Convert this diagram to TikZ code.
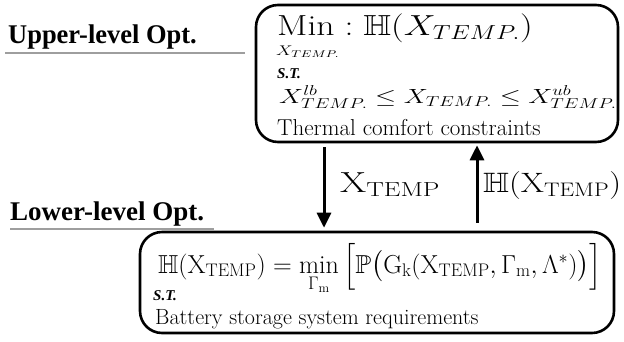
\RequirePackage{fix-cm}
\documentclass[tikz,border=0pt]{standalone}
\usepackage{amsmath,amssymb}
\DeclareFontFamily{U}{msb}{}
\DeclareFontShape{U}{msb}{m}{n}{<-> msbm10}{}
\usepackage{graphicx}
\usepackage{fontspec}
\newfontfamily\timesfont{Liberation Serif}
\usetikzlibrary{arrows.meta}
\newcommand\xsc[2]{\scalebox{#1}[1]{#2}}
\tikzset{
  optbox/.style={draw, line width=2.6pt, rounded corners=22pt, inner sep=0pt},
  levellabel/.style={anchor=base west, inner sep=0pt, font=\timesfont\bfseries\fontsize{27}{30}\selectfont},
  rule/.style={line width=2.5pt, color=black!38},
  txt/.style={anchor=base west, inner sep=0pt},
  stlabel/.style={txt, font=\timesfont\bfseries\itshape\fontsize{15}{18}\selectfont},
  flow/.style={line width=3pt, -{Triangle[length=15pt,width=14pt]}},
}
\begin{document}
\begin{tikzpicture}[x=1pt,y=-1pt]
\useasboundingbox (0,0) rectangle (624,341);
% labels
\node[levellabel] (ul) at (8,43) {\xsc{0.98}{Upper-level Opt.}};
\draw[rule] (5,53) coordinate (ula) -- (245,53) coordinate (ulb);
\node[levellabel] (ll) at (10,220) {\xsc{1.0}{Lower-level Opt.}};
\draw[rule] (10,229) coordinate (lla) -- (214,229) coordinate (llb);
% boxes
\node[optbox, minimum width=362pt, minimum height=137pt] (upper) at (437,73.5) {};
\node[optbox, minimum width=474pt, minimum height=101pt] (lower) at (377,282.5) {};
% upper text
\node[txt, font=\fontsize{29}{32}\selectfont] (u1) at (277,35) {\xsc{1.23}{$\mathrm{Min}:\mathbb{H}(X_{TEMP.})$}};
\node[txt, font=\fontsize{14}{16}\selectfont] (u2) at (276,55) {\xsc{1.33}{$X_{TEMP.}$}};
\node[stlabel] (u3) at (277,78) {S.T.};
\node[txt, font=\fontsize{20.5}{24}\selectfont] (u4) at (279,103) {\xsc{1.32}{$X^{lb}_{TEMP.}\leq X_{TEMP.}\leq X^{ub}_{TEMP.}$}};
\node[txt, font=\fontsize{23}{26}\selectfont] (u5) at (277,135) {Thermal comfort constraints};
% lower text
\node[txt, font=\fontsize{26}{28}\selectfont] (l1) at (158,273) {$\mathbb{H}(\mathrm{X_{TEMP}})=\min\limits_{\Gamma_\mathrm{m}}\Big[\mathbb{P}\big(\mathrm{G_k}(\mathrm{X_{TEMP}},\Gamma_\mathrm{m},\Lambda^*)\big)\Big]$};
\node[stlabel] (l2) at (153,300) {S.T.};
\node[txt, font=\fontsize{22}{26}\selectfont] (l3) at (155,324) {Battery storage system requirements};
% arrows
\coordinate (dx) at (324,0);
\coordinate (ux) at (477,0);
\draw[flow, shorten <=4pt, shorten >=3pt] (upper.south -| dx) -- (lower.north -| dx);
\draw[flow, shorten <=8pt, shorten >=2pt] (lower.north -| ux) -- (upper.south -| ux);
\node[txt, font=\fontsize{29}{32}\selectfont] (a1) at (340,192) {\xsc{1.3}{$\mathrm{X_{TEMP}}$}};
\node[txt, font=\fontsize{28}{32}\selectfont] (a2) at (483,192) {\xsc{1.19}{$\mathbb{H}(\mathrm{X_{TEMP}})$}};
\end{tikzpicture}
\end{document}
